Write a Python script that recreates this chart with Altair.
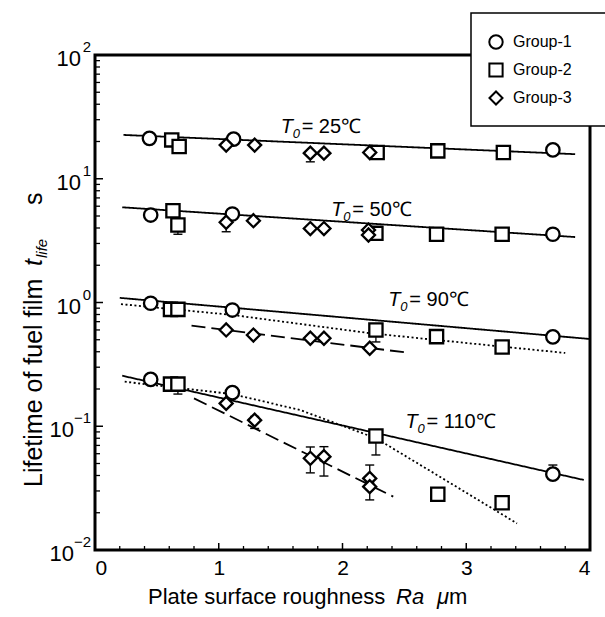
import altair as alt
import pandas as pd

FONT = "Liberation Sans"

# ---------------- measured data: Ra (um) vs lifetime (s) ----------------
groups = ["Group-1", "Group-2", "Group-3"]

# T0 = 25 C
ra_25_g1 = [0.44, 1.12, 3.70]
life_25_g1 = [21.2, 20.9, 17.1]
ra_25_g2 = [0.62, 0.68, 2.28, 2.77, 3.30]
life_25_g2 = [20.6, 18.2, 16.3, 16.8, 16.3]
ra_25_g3 = [1.06, 1.29, 1.74, 1.85, 2.22]
life_25_g3 = [18.7, 18.7, 16.1, 16.1, 16.3]
# T0 = 50 C
ra_50_g1 = [0.45, 1.11, 3.70]
life_50_g1 = [5.09, 5.19, 3.56]
ra_50_g2 = [0.63, 0.67, 2.27, 2.76, 3.29]
life_50_g2 = [5.52, 4.23, 3.62, 3.56, 3.56]
ra_50_g3 = [1.06, 1.28, 1.74, 1.85, 2.21, 2.21]
life_50_g3 = [4.45, 4.58, 3.96, 3.96, 3.85, 3.51]
# T0 = 90 C
ra_90_g1 = [0.45, 1.11, 3.70]
life_90_g1 = [0.986, 0.869, 0.528]
ra_90_g2 = [0.61, 0.67, 2.27, 2.76, 3.29]
life_90_g2 = [0.88, 0.88, 0.60, 0.53, 0.437]
ra_90_g3 = [1.06, 1.28, 1.74, 1.85, 2.22]
life_90_g3 = [0.60, 0.546, 0.514, 0.514, 0.427]
# T0 = 110 C
ra_110_g1 = [0.45, 1.11, 3.70]
life_110_g1 = [0.239, 0.187, 0.041]
ra_110_g2 = [0.61, 0.67, 2.27, 2.77, 3.29]
life_110_g2 = [0.219, 0.219, 0.0834, 0.0282, 0.0241]
ra_110_g3 = [1.06, 1.29, 1.74, 1.85, 2.22, 2.22]
life_110_g3 = [0.153, 0.112, 0.0551, 0.0568, 0.0379, 0.0325]

# error bars
err_ra = [1.74, 0.67, 1.06, 2.27, 2.76, 0.67, 1.29, 1.74, 1.85, 2.22, 2.22, 2.27, 3.70]
err_lo = [13.7, 3.56, 3.73, 0.48, 0.47, 0.182, 0.096, 0.042, 0.0396, 0.035, 0.0254, 0.0586, 0.038]
err_hi = [16.5, 4.4, 4.6, 0.62, 0.55, 0.225, 0.12, 0.068, 0.0684, 0.0486, 0.034, 0.09, 0.0486]

# fitted curves
solid_25_ra = [0.23, 3.88]
solid_25_life = [22.6, 15.8]
solid_50_ra = [0.22, 3.88]
solid_50_life = [5.88, 3.38]
solid_90_ra = [0.20, 4.00]
solid_90_life = [1.09, 0.507]
solid_110_ra = [0.22, 3.95]
solid_110_life = [0.256, 0.0368]
dashed_90_ra = [0.78, 2.50]
dashed_90_life = [0.65, 0.396]
dashed_110_ra = [0.80, 2.41]
dashed_110_life = [0.168, 0.027]
dotted_90_ra = [0.21, 1.11, 2.21, 2.76, 3.80]
dotted_90_life = [0.97, 0.793, 0.567, 0.498, 0.391]
dotted_110_ra = [0.24, 0.67, 1.11, 1.66, 2.27, 2.79, 3.41]
dotted_110_life = [0.229, 0.204, 0.182, 0.135, 0.080, 0.0389, 0.0164]

# annotations
ann_ra = [1.50, 1.91, 2.37, 2.51]
ann_life = [23.4, 5.0, 0.938, 0.0968]
ann_text = ["= 25℃", "= 50℃", "= 90℃", "= 110℃"]

# axis ticks / labels
x_major = [0, 1, 2, 3, 4]
x_minor = [0.2, 0.4, 0.6, 0.8, 1.2, 1.4, 1.6, 1.8, 2.2, 2.4, 2.6, 2.8, 3.2, 3.4, 3.6, 3.8]
y_major = [0.01, 0.1, 1, 10, 100]
y_minor = [k * 10.0 ** e for e in range(-2, 2) for k in range(2, 10)]
y_lab_pos_vals = [100, 10, 1]
y_lab_pos_exp = ["2", "1", "0"]
y_lab_neg_vals = [0.1, 0.01]
y_lab_neg_exp = ["\u22121", "\u22122"]

# ---------------- build tables ----------------
rows = []
for T, sets in [
    ("25", [(ra_25_g1, life_25_g1), (ra_25_g2, life_25_g2), (ra_25_g3, life_25_g3)]),
    ("50", [(ra_50_g1, life_50_g1), (ra_50_g2, life_50_g2), (ra_50_g3, life_50_g3)]),
    ("90", [(ra_90_g1, life_90_g1), (ra_90_g2, life_90_g2), (ra_90_g3, life_90_g3)]),
    ("110", [(ra_110_g1, life_110_g1), (ra_110_g2, life_110_g2), (ra_110_g3, life_110_g3)]),
]:
    for g, (rs, ls) in zip(groups, sets):
        for r, l in zip(rs, ls):
            rows.append({"ra": r, "life": l, "group": g, "temp": T})
df_pts = pd.DataFrame(rows)
df_pts["gorder"] = df_pts["group"].map({g: i for i, g in enumerate(groups)})
df_pts = df_pts.sort_values("gorder", kind="stable")

line_rows = []
for lid, style, rs, ls in [
    ("s25", "solid", solid_25_ra, solid_25_life),
    ("s50", "solid", solid_50_ra, solid_50_life),
    ("s90", "solid", solid_90_ra, solid_90_life),
    ("s110", "solid", solid_110_ra, solid_110_life),
    ("d90", "dashed", dashed_90_ra, dashed_90_life),
    ("d110", "dashed", dashed_110_ra, dashed_110_life),
    ("o90", "dotted", dotted_90_ra, dotted_90_life),
    ("o110", "dotted", dotted_110_ra, dotted_110_life),
]:
    for r, l in zip(rs, ls):
        line_rows.append({"ra": r, "life": l, "lid": lid, "style": style})
df_lines = pd.DataFrame(line_rows)

df_err = pd.DataFrame({"ra": err_ra, "lo": err_lo, "hi": err_hi})
df_ann = pd.DataFrame({"ra": ann_ra, "life": ann_life, "txt": ann_text})

X_SCALE = alt.Scale(domain=[0, 4], nice=False, zero=False)
Y_SCALE = alt.Scale(type="log", domain=[0.01, 100], nice=False)
X_AXIS = alt.Axis(values=x_major, ticks=False, tickSize=0, domain=False, grid=False, title=None,
                  labelFont=FONT, labelFontSize=21, labelColor="black", labelPadding=7, format="d")
X_ENC = alt.X("ra:Q", scale=X_SCALE, axis=X_AXIS)
Y_ENC = alt.Y("life:Q", scale=Y_SCALE, axis=None)

# ---------------- layers ----------------
ytick_major = alt.Chart(pd.DataFrame({"life": y_major})).mark_rule(color="black", strokeWidth=1.5).encode(
    y=Y_ENC, x=alt.value(0), x2=alt.value(8))
ytick_minor = alt.Chart(pd.DataFrame({"life": y_minor})).mark_rule(color="black", strokeWidth=1.3).encode(
    y=Y_ENC, x=alt.value(0), x2=alt.value(5))
xtick_major = alt.Chart(pd.DataFrame({"ra": x_major})).mark_rule(color="black", strokeWidth=1.5).encode(
    x=X_ENC, y=alt.value(495), y2=alt.value(488))
xtick_minor = alt.Chart(pd.DataFrame({"ra": x_minor})).mark_rule(color="black", strokeWidth=1.3).encode(
    x=X_ENC, y=alt.value(495), y2=alt.value(491))

lines = alt.Chart(df_lines).mark_line(color="black").encode(
    x=X_ENC, y=Y_ENC, detail="lid:N",
    strokeDash=alt.StrokeDash("style:N", scale=alt.Scale(domain=["solid", "dashed", "dotted"],
                                                         range=[[1, 0], [14, 6], [2, 2.5]]), legend=None),
    strokeWidth=alt.StrokeWidth("style:N", scale=alt.Scale(domain=["solid", "dashed", "dotted"],
                                                           range=[1.8, 1.8, 2.2]), legend=None),
)

err_rule = alt.Chart(df_err).mark_rule(color="black", strokeWidth=1.3).encode(
    x=X_ENC, y=alt.Y("lo:Q", scale=Y_SCALE, axis=None), y2="hi:Q")
err_cap_lo = alt.Chart(df_err).mark_tick(color="black", orient="horizontal", size=9, thickness=1.4, opacity=1).encode(
    x=X_ENC, y=alt.Y("lo:Q", scale=Y_SCALE, axis=None))
err_cap_hi = alt.Chart(df_err).mark_tick(color="black", orient="horizontal", size=9, thickness=1.4, opacity=1).encode(
    x=X_ENC, y=alt.Y("hi:Q", scale=Y_SCALE, axis=None))

PAD = "\u00a0" * 3 + "\u2800"
LEG = alt.Legend(title=" ", titleFontSize=2, titlePadding=2, orient="none", legendX=376, legendY=-42,
                 fillColor="white", strokeColor="black", padding=17,
                 labelFont=FONT, labelFontSize=16, labelColor="black",
                 symbolSize=200, symbolStrokeWidth=2, symbolOpacity=1, symbolFillColor="white",
                 rowPadding=6, labelOffset=9, labelExpr="datum.label + '" + PAD + "'")

points = alt.Chart(df_pts).mark_point(filled=False, fill="white", strokeWidth=2.3, opacity=1).encode(
    x=X_ENC, y=Y_ENC,
    shape=alt.Shape("group:N", scale=alt.Scale(domain=groups, range=["circle", "square", "diamond"]), legend=LEG),
    color=alt.Color("group:N", scale=alt.Scale(domain=groups, range=["black", "black", "black"]), legend=LEG),
    size=alt.Size("group:N", scale=alt.Scale(domain=groups, range=[180, 170, 256]), legend=None),
    order=alt.Order("gorder:Q"),
)

ann_T = alt.Chart(df_ann).mark_text(align="left", baseline="alphabetic", font=FONT, fontSize=20,
                                    fontStyle="italic", color="black").encode(x=X_ENC, y=Y_ENC, text=alt.value("T"))
ann_0 = alt.Chart(df_ann).mark_text(align="left", baseline="alphabetic", font=FONT, fontSize=13,
                                    fontStyle="italic", color="black", dx=12, dy=5).encode(
    x=X_ENC, y=Y_ENC, text=alt.value("0"))
ann_rest = alt.Chart(df_ann).mark_text(align="left", baseline="alphabetic", font=FONT, fontSize=20,
                                       color="black", dx=21).encode(x=X_ENC, y=Y_ENC, text="txt:N")

# y tick labels 10^n
ylab_pos_base = alt.Chart(pd.DataFrame({"life": y_lab_pos_vals, "e": y_lab_pos_exp})).mark_text(
    align="right", baseline="middle", font=FONT, fontSize=22, color="black", dy=4).encode(
    y=Y_ENC, x=alt.value(-14), text=alt.value("10"))
ylab_neg_base = alt.Chart(pd.DataFrame({"life": y_lab_neg_vals, "e": y_lab_neg_exp})).mark_text(
    align="right", baseline="middle", font=FONT, fontSize=22, color="black", dy=4).encode(
    y=Y_ENC, x=alt.value(-21), text=alt.value("10"))
ylab_exp = alt.Chart(pd.DataFrame({"life": y_lab_pos_vals + y_lab_neg_vals,
                                   "e": y_lab_pos_exp + y_lab_neg_exp})).mark_text(
    align="right", baseline="middle", font=FONT, fontSize=15, color="black", dy=-8).encode(
    y=Y_ENC, x=alt.value(-4), text="e:N")


def label(txt, x, y, size=22, italic=False, angle=None, align="left"):
    kw = dict(align=align, baseline="alphabetic", font=FONT, fontSize=size, color="black")
    if italic:
        kw["fontStyle"] = "italic"
    if angle is not None:
        kw["angle"] = angle
    return alt.Chart(pd.DataFrame({"t": [txt]})).mark_text(**kw).encode(
        text="t:N", x=alt.value(x), y=alt.value(y))


xt1 = label("Plate surface roughness", 53, 549)
xt2 = label("Ra", 301, 549, italic=True)
xt3 = label("\u03bc", 342, 549, italic=True)
xt4 = label("m", 354, 549)

yt1 = label("Lifetime of fuel film", -53, 432, size=25, angle=270)
yt2 = label("t", -53, 211, size=25, italic=True, angle=270)
yt3 = label("life", -48, 203, size=15, italic=True, angle=270)
yt4 = label("s", -53, 150, size=25, angle=270)

chart = alt.layer(
    ytick_major, ytick_minor, xtick_major, xtick_minor,
    lines, err_rule, err_cap_lo, err_cap_hi, points,
    ann_T, ann_0, ann_rest,
    ylab_pos_base, ylab_neg_base, ylab_exp,
    xt1, xt2, xt3, xt4, yt1, yt2, yt3, yt4,
).properties(
    width=495, height=495,
    padding={"left": 95, "top": 55, "right": 15, "bottom": 67},
    autosize=alt.AutoSizeParams(type="none"),
    background="white",
).configure_view(stroke="black", strokeWidth=3).configure_legend(strokeWidth=1.5)

chart.save("out.html", embed_options={"renderer": "svg", "actions": False})
